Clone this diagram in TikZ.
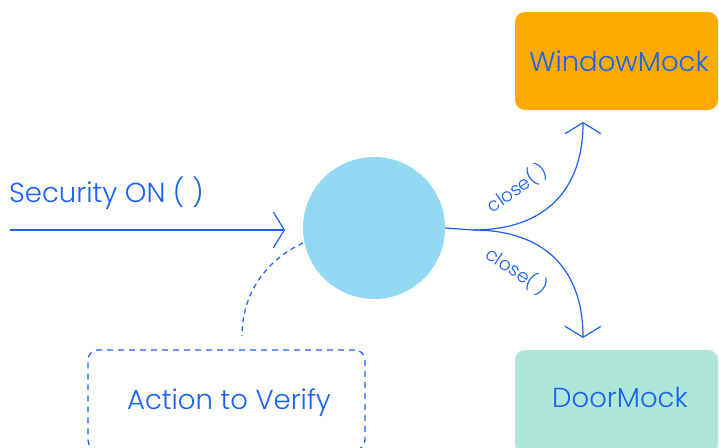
\documentclass[tikz,border=0pt]{standalone}
\usepackage{fontspec}
\setmainfont{Poppins}[UprightFont={* Light}]
\usetikzlibrary{arrows.meta}
\definecolor{ink}{RGB}{26,98,242}
\definecolor{winorange}{RGB}{255,170,0}
\definecolor{doorgreen}{RGB}{174,230,218}
\definecolor{ballblue}{RGB}{147,217,243}
\tikzset{
  bigtext/.style={text=ink, font=\fontsize{27.5}{32}\selectfont, inner sep=0pt},
  mockbox/.style={rounded corners=10pt, minimum width=203pt, minimum height=98pt, inner sep=0pt},
  conn/.style={draw=ink, line width=1.2pt},
  tip/.style={-{Straight Barb[length=11pt,width=36pt,line width=1.2pt]}},
  lbl/.style={text=ink, font=\fontsize{18.5}{22}\selectfont, inner sep=0pt},
  dashline/.style={draw=ink, line width=1.2pt, dash pattern=on 5pt off 4pt},
}
\begin{document}
\begin{tikzpicture}[x=1pt,y=-1pt]
\useasboundingbox (0,0) rectangle (719,447);
\clip (0,0) rectangle (719,447);
\fill[white] (0,0) rectangle (719,447);
\node[mockbox, fill=winorange] (win) at (616.5,61) {};
\node[bigtext] (wintxt) at (619,61) {WindowMock};
\node[mockbox, fill=doorgreen, minimum height=104pt] (door) at (616.5,402) {};
\node[bigtext] (doortxt) at (620,397) {DoorMock};
\node[circle, fill=ballblue, minimum size=142pt, inner sep=0pt] (ball) at (374,228) {};
\node[draw=ink, line width=1.2pt, dash pattern=on 6pt off 5pt, rounded corners=10pt, minimum width=277pt, minimum height=100pt, inner sep=0pt] (act) at (226.5,400) {};
\node[bigtext] (acttxt) at (229,403) {Action to Verify};
\node[bigtext, anchor=west] (sec) at (9,193) {Security ON ( )};
\coordinate (start) at (10,230);
\coordinate (intip) at (285,230);
\coordinate (fork) at (473,230);
\coordinate (wt) at (583,122);
\coordinate (dt) at (583,338);
\coordinate (ds) at (303,243);
\coordinate (de) at (242,336);
\draw[conn, tip] (start) -- (intip);
\draw[conn, tip] (ball.east) -- (fork) .. controls (545,230) and (583,190) .. (wt);
\draw[conn, tip] (fork) .. controls (545,230) and (583,270) .. (dt);
\draw[dashline] (ds) .. controls (270,258) and (242,290) .. (de);
\node[lbl, rotate=35] (c1) at (517,188) {close( )};
\node[lbl, rotate=-34] (c2) at (517,271) {close( )};
\end{tikzpicture}
\end{document}
